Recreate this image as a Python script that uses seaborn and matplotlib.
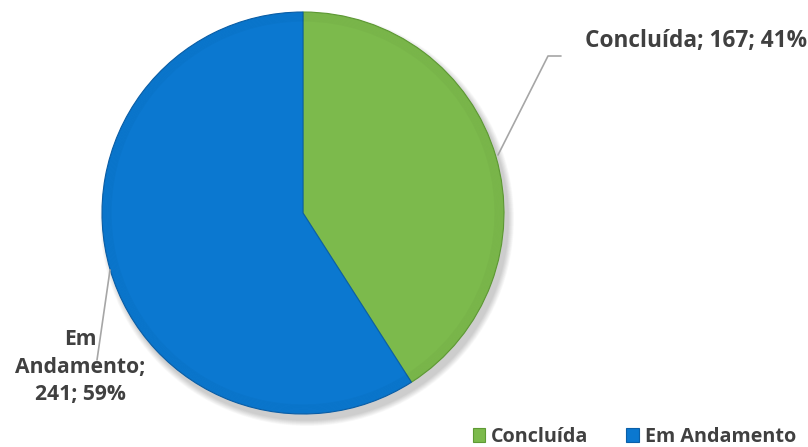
import numpy as np
import matplotlib
matplotlib.use("Agg")
import matplotlib.pyplot as plt
from matplotlib.patches import Wedge, Circle
import seaborn as sns

# Status counts
categories = ["Concluída", "Em Andamento"]
counts = [167, 241]
colors = ["#7cba4c", "#0b78d0"]
edge_colors = ["#5e9a34", "#0a5fa8"]

sns.set_theme(style="white")
plt.rcParams["font.family"] = ["Open Sans", "DejaVu Sans"]

W, H = 808, 447
fig = plt.figure(figsize=(W / 100, H / 100), dpi=100)
fig.patch.set_facecolor("white")

cx, cy, r = 303, 447 - 213, 201
ax = fig.add_axes([(cx - r) / W, (cy - r) / H, 2 * r / W, 2 * r / H])

# soft drop shadow toward the lower right
for i in range(10):
    rad = 1.0 + 0.003 * (10 - i)
    ax.add_patch(Circle((0.02, -0.03), rad, color="black", alpha=0.02,
                        lw=0, zorder=0, clip_on=False))

total = sum(counts)
wedges, _ = ax.pie(counts, colors=colors, startangle=90, counterclock=False,
                   radius=1.0, wedgeprops=dict(linewidth=0.8))
for w, ec in zip(wedges, edge_colors):
    w.set_edgecolor(ec)
    w.set_zorder(2)

# subtle darkened rim for a bevelled look
for w in wedges:
    t1, t2 = w.theta1, w.theta2
    for k in range(8):
        rr = 1.0 - 0.006 * k
        ax.add_patch(Wedge((0, 0), rr, t1, t2, width=0.006, facecolor="black",
                           alpha=0.025, lw=0, zorder=3))

ax.set_xlim(-1, 1)
ax.set_ylim(-1, 1)
ax.set_aspect("equal")
ax.axis("off")

# data labels
pct = [round(100 * v / total) for v in counts]
text_color = "#404040"
fig.text(585 / W, 1 - 41 / H, f"{categories[0]}; {counts[0]}; {pct[0]}%",
         ha="left", va="center", fontsize=16.3, fontweight="bold", color=text_color)
fig.text(80 / W, 1 - 367 / H, f"Em\nAndamento;\n{counts[1]}; {pct[1]}%",
         ha="center", va="center", fontsize=15.2, fontweight="bold", color=text_color,
         linespacing=1.42)

# leader lines (pixel coordinates converted to figure fraction)
def line(pts):
    xs = [p[0] / W for p in pts]
    ys = [1 - p[1] / H for p in pts]
    fig.add_artist(plt.Line2D(xs, ys, color="#a6a6a6", lw=1.2))

line([(498, 155), (548, 56), (561, 56)])
line([(110, 270), (97, 360)])

# legend
handles = [plt.Rectangle((0, 0), 1, 1, facecolor=c, edgecolor=e, lw=0.8)
           for c, e in zip(colors, edge_colors)]
leg = fig.legend(handles, categories, loc="center right",
                 bbox_to_anchor=(806 / W, 1 - 437 / H), ncol=2, frameon=False,
                 handlelength=0.65, handleheight=0.65, handletextpad=0.3,
                 columnspacing=1.9, borderpad=0,
                 prop=dict(size=14.2, weight="bold"))
for t in leg.get_texts():
    t.set_color(text_color)

fig.savefig("out.png", dpi=100, facecolor="white")
